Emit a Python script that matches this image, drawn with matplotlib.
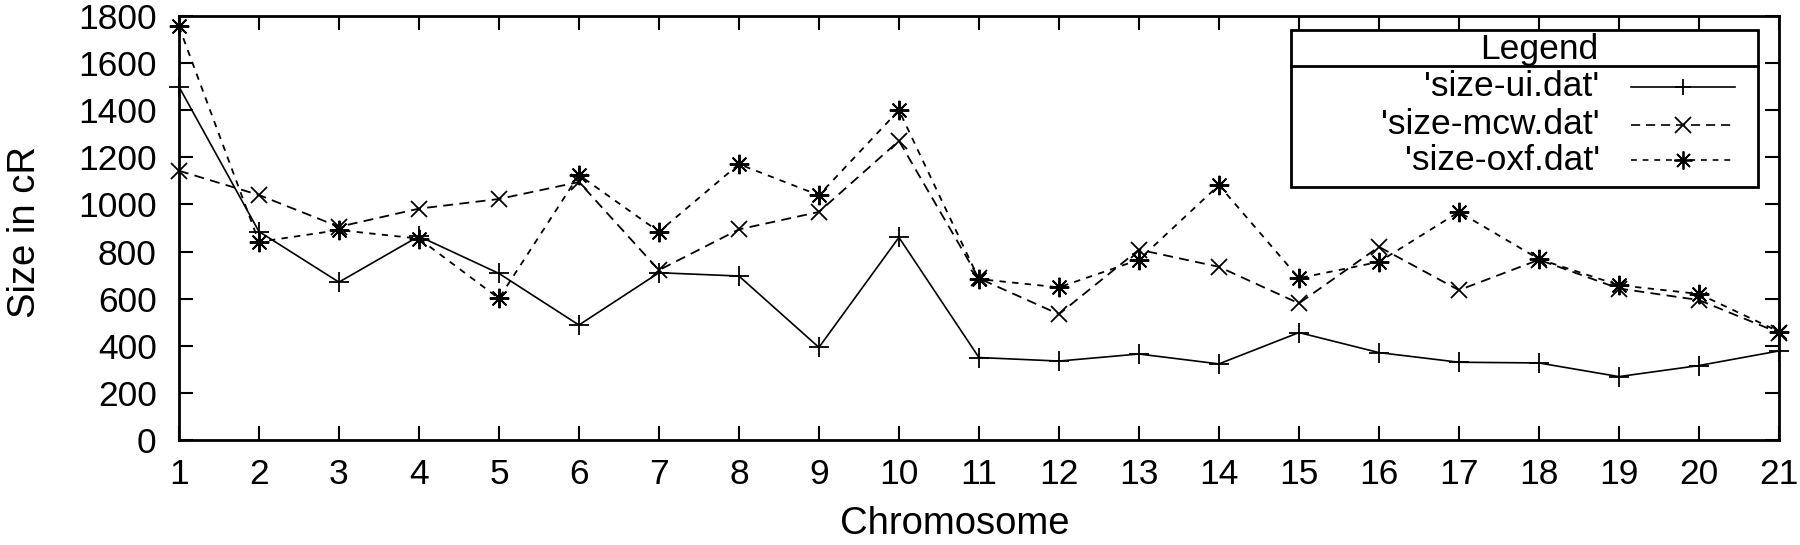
import matplotlib
matplotlib.use('Agg')
import matplotlib.pyplot as plt
from matplotlib.lines import Line2D

plt.rcParams['font.family'] = ['Liberation Sans', 'DejaVu Sans']

# chromosome numbers and sizes (cR)
chrom = list(range(1, 22))
size_ui = [1500, 885, 670, 865, 707, 488, 710, 696, 393, 860, 350,
           335, 365, 323, 456, 371, 330, 327, 269, 316, 378]
size_mcw = [1143, 1040, 905, 982, 1023, 1095, 721, 894, 968, 1270, 686,
            534, 808, 735, 580, 820, 636, 765, 643, 594, 455]
size_oxf = [1756, 841, 891, 855, 601, 1125, 884, 1171, 1039, 1400, 683,
            648, 765, 1082, 687, 756, 968, 768, 657, 620, 460]
labels = ["'size-ui.dat'", "'size-mcw.dat'", "'size-oxf.dat'"]

fs_tick = 25.5
fs_lab = 27.5
fs_leg = 25.5
ast = (8, 2, 0)  # gnuplot-like asterisk
ls_mcw = (0, (5.5, 3.5))
ls_oxf = (0, (3.5, 3.5))

fig = plt.figure(figsize=(18, 5.45), dpi=100)
ax = fig.add_axes([0.0994, 0.1927, 0.8889, 0.778])

ax.plot(chrom, size_ui, color='black', lw=1.2, marker='+', ms=14, mew=1.3, clip_on=False)
ax.plot(chrom, size_mcw, color='black', lw=1.3, ls=ls_mcw, marker='x', ms=12, mew=1.3, clip_on=False)
ax.plot(chrom, size_oxf, color='black', lw=1.3, ls=ls_oxf, marker=ast, ms=14, mew=1.4, clip_on=False)

ax.set_xlim(1, 21)
ax.set_ylim(0, 1800)
ax.set_xticks(chrom)
ax.set_yticks(range(0, 1801, 200))
ax.tick_params(direction='in', length=10, width=1.5, top=True, right=True,
               labelsize=fs_tick)
ax.tick_params(axis='x', pad=13)
ax.tick_params(axis='y', pad=16)
for s in ax.spines.values():
    s.set_linewidth(2)
ax.set_xlabel('Chromosome', fontsize=fs_lab, va='center')
ax.set_ylabel('Size in cR', fontsize=fs_lab, va='center')
ax.xaxis.set_label_coords(0.485, -0.198)
ax.yaxis.set_label_coords(-0.096, 0.49)

# gnuplot style legend box
x0, x1, y0, y1 = 0.695, 0.987, 0.597, 0.967
ysep = 0.882
tr = ax.transAxes
ax.add_patch(plt.Rectangle((x0, y0), x1 - x0, y1 - y0, transform=tr, fill=True,
                           facecolor='white', edgecolor='black', lw=2, zorder=5))
ax.add_line(Line2D([x0, x1], [ysep, ysep], transform=tr, color='black', lw=2, zorder=6))
ax.text(0.85, 0.921, 'Legend', transform=tr, ha='center', va='center', fontsize=fs_leg, zorder=6)

rows = [0.8325, 0.743, 0.660]
styles = [dict(ls='-', marker='+', ms=12), dict(ls=ls_mcw, marker='x', ms=12),
          dict(ls=ls_oxf, marker=ast, ms=13)]
for yy, lab, st in zip(rows, labels, styles):
    ax.text(0.888, yy, lab, transform=tr, ha='right', va='center', fontsize=fs_leg, zorder=6)
    ax.add_line(Line2D([0.9076, 0.9725], [yy, yy], transform=tr, color='black', lw=1.2,
                       ls=st['ls'], zorder=6))
    ax.add_line(Line2D([0.940], [yy], transform=tr, color='black', marker=st['marker'],
                       ms=st['ms'], mew=1.3, ls='none', zorder=6))

fig.savefig('out.png', dpi=100)
